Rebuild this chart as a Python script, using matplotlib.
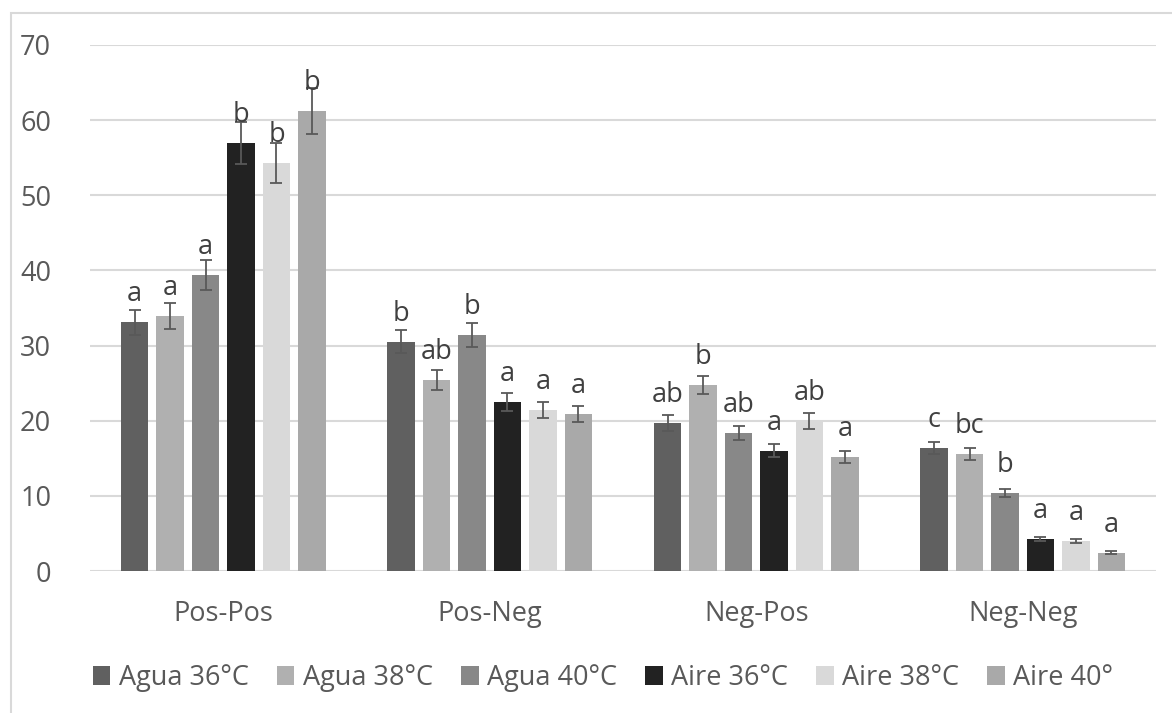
import matplotlib
matplotlib.use("Agg")
import matplotlib.pyplot as plt
import numpy as np
from matplotlib.patches import Rectangle

# === Data ===
categories = ["Pos-Pos", "Pos-Neg", "Neg-Pos", "Neg-Neg"]
series_names = ["Agua 36°C", "Agua 38°C", "Agua 40°C", "Aire 36°C", "Aire 38°C", "Aire 40°"]

agua36 = [33.1, 30.5, 19.7, 16.35]
agua38 = [33.9, 25.4, 24.8, 15.55]
agua40 = [39.4, 31.4, 18.4, 10.4]
aire36 = [57.0, 22.5, 16.0, 4.3]
aire38 = [54.3, 21.4, 20.0, 4.0]
aire40 = [61.2, 20.9, 15.2, 2.4]

agua36_err = [1.65, 1.55, 1.05, 0.78]
agua38_err = [1.70, 1.33, 1.20, 0.78]
agua40_err = [1.95, 1.60, 0.95, 0.55]
aire36_err = [2.80, 1.15, 0.85, 0.27]
aire38_err = [2.70, 1.10, 1.05, 0.27]
aire40_err = [3.05, 1.07, 0.80, 0.20]

agua36_lbl = ["a", "b", "ab", "c"]
agua38_lbl = ["a", "ab", "b", "bc"]
agua40_lbl = ["a", "b", "ab", "b"]
aire36_lbl = ["b", "a", "a", "a"]
aire38_lbl = ["b", "a", "ab", "a"]
aire40_lbl = ["b", "a", "a", "a"]

values = [agua36, agua38, agua40, aire36, aire38, aire40]
errors = [agua36_err, agua38_err, agua40_err, aire36_err, aire38_err, aire40_err]
letters = [agua36_lbl, agua38_lbl, agua40_lbl, aire36_lbl, aire38_lbl, aire40_lbl]
colors = ["#606060", "#b0b0b0", "#888888", "#222222", "#d9d9d9", "#a9a9a9"]

# === Style ===
plt.rcParams['font.family'] = ['Open Sans', 'DejaVu Sans']
text_color = "#595959"
grid_color = "#d9d9d9"

fig = plt.figure(figsize=(11.72, 7.13), dpi=100)
ax = fig.add_axes([90 / 1172, 1 - 571 / 713, (1156 - 90) / 1172, (571 - 45) / 713])

x = np.arange(len(categories))
slot = 0.1332
width = 0.105

for i, (vals, errs, lbls, col, name) in enumerate(zip(values, errors, letters, colors, series_names)):
    pos = x + (i - 2.5) * slot
    ax.bar(pos, vals, width=width, color=col, label=name, zorder=2)
    ax.errorbar(pos, vals, yerr=errs, fmt='none', ecolor=text_color,
                elinewidth=1.3, capsize=4.3, capthick=1.3, zorder=3)
    for px, v, t in zip(pos, vals, lbls):
        ax.text(px, v + 2.8, t, ha='center', va='baseline', fontsize=19.5,
                color="#404040", zorder=4)

ax.set_xlim(-0.5, 3.5)
ax.set_ylim(0, 70)
ax.set_yticks(np.arange(0, 71, 10))
ax.set_xticks(x)
ax.set_xticklabels(categories)
ax.tick_params(axis='both', length=0, labelsize=19.5, colors=text_color)
ax.tick_params(axis='x', pad=21)
ax.tick_params(axis='y', pad=28)
ax.yaxis.grid(True, color=grid_color, linewidth=1.5, zorder=0)
ax.set_axisbelow(True)
for s in ax.spines.values():
    s.set_visible(False)
ax.axhline(0, color=grid_color, linewidth=1.8, zorder=1)

# Legend below plot
fig.legend(loc='center', bbox_to_anchor=(603 / 1172, 1 - 678 / 713), ncol=6,
           fontsize=19.5, frameon=False, handlelength=0.65, handleheight=0.65,
           handletextpad=0.3, columnspacing=1.05, labelcolor=text_color)

# chart border
fig.patches.append(Rectangle((11 / 1172, -0.1), 1.2, 1.1 - 13 / 713,
                             transform=fig.transFigure, fill=False,
                             edgecolor=grid_color, linewidth=1.5))

plt.savefig("out.png", dpi=100)
